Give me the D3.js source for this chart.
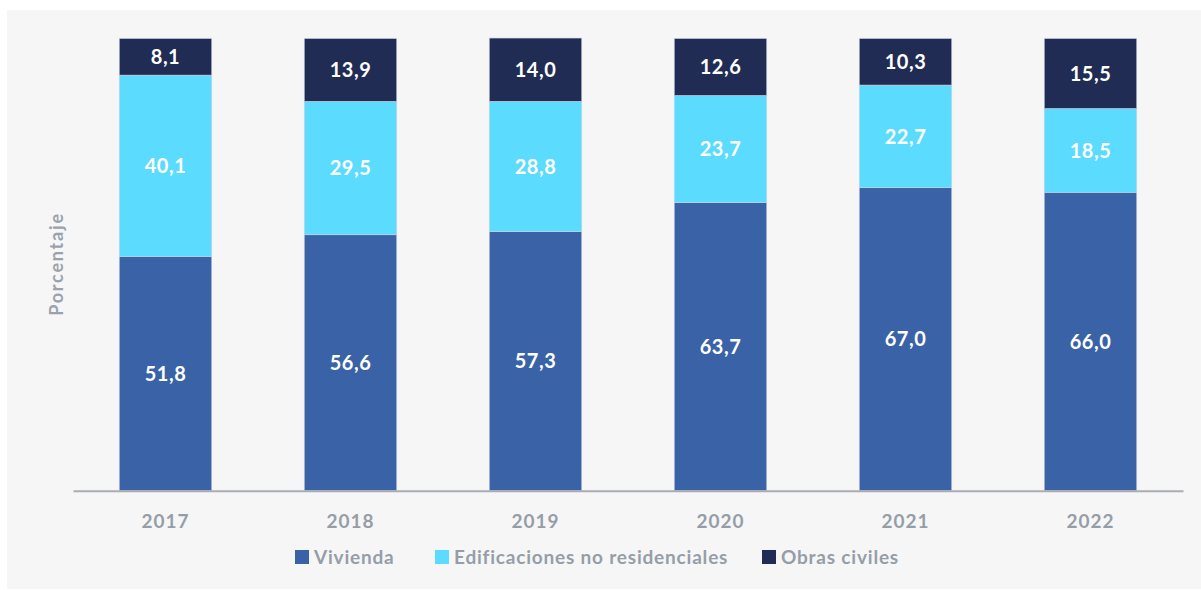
<!DOCTYPE html>
<html>
<head>
<meta charset="utf-8">
<script src="https://cdn.jsdelivr.net/npm/d3@7"></script>
<style>
  body { margin: 0; background: #fff; }
  text { font-family: Lato, "Open Sans", sans-serif; font-weight: 700; }
</style>
</head>
<body>
<svg id="chart" width="1201" height="590"></svg>
<script>
var years = ['2017', '2018', '2019', '2020', '2021', '2022'];
var seriesNames = ['Vivienda', 'Edificaciones no residenciales', 'Obras civiles'];
var vivienda = [51.8, 56.6, 57.3, 63.7, 67.0, 66.0];
var edificaciones = [40.1, 29.5, 28.8, 23.7, 22.7, 18.5];
var obras = [8.1, 13.9, 14.0, 12.6, 10.3, 15.5];
var colors = ['#3a62a6', '#5bdbfe', '#212c55'];

var svg = d3.select('#chart');

// gray panel
svg.append('rect')
  .attr('x', 7).attr('y', 10)
  .attr('width', 1194).attr('height', 579)
  .attr('fill', '#f6f6f6');

var x = d3.scaleBand()
  .domain(years)
  .range([73, 1183])
  .paddingInner(0.5)
  .paddingOuter(0.25);

var y = d3.scaleLinear()
  .domain([0, 100])
  .range([490.7, 38.5]);

var rows = years.map(function(yr, i) {
  return { year: yr, v: vivienda[i], e: edificaciones[i], o: obras[i] };
});

var stack = d3.stack().keys(['v', 'e', 'o']);
var layers = stack(rows);

var groups = svg.selectAll('.layer')
  .data(layers)
  .enter().append('g')
  .attr('class', 'layer')
  .attr('fill', function(d, i) { return colors[i]; });

groups.selectAll('rect')
  .data(function(d) { return d; })
  .enter().append('rect')
  .attr('x', function(d) { return x(d.data.year); })
  .attr('y', function(d) { return y(d[1]); })
  .attr('width', x.bandwidth())
  .attr('height', function(d) { return y(d[0]) - y(d[1]); })
  .attr('stroke', '#c9d3e6')
  .attr('stroke-width', 0.6);

groups.selectAll('text')
  .data(function(d) { return d; })
  .enter().append('text')
  .attr('x', function(d) { return x(d.data.year) + x.bandwidth() / 2; })
  .attr('y', function(d) { return (y(d[0]) + y(d[1])) / 2; })
  .attr('dy', '0.36em')
  .attr('text-anchor', 'middle')
  .attr('fill', '#ffffff')
  .style('font-size', '20px')
  .style('letter-spacing', '0.5px')
  .text(function(d) { return d3.format('.1f')(d[1] - d[0]).replace('.', ','); });

// x axis
var xAxis = svg.append('g')
  .attr('transform', 'translate(0,' + y(0) + ')')
  .call(d3.axisBottom(x).tickSize(0).tickPadding(24));
xAxis.select('.domain').attr('stroke', '#a9adb2').attr('stroke-width', 2);
xAxis.selectAll('text')
  .attr('fill', '#959ea8')
  .style('font-size', '19px')
  .style('letter-spacing', '1px')
  .style('font-family', 'Lato, sans-serif')
  .style('font-weight', 700);

// y label
svg.append('text')
  .attr('transform', 'translate(63,264) rotate(-90)')
  .attr('text-anchor', 'middle')
  .attr('fill', '#9aa3ac')
  .style('font-size', '18px')
  .style('letter-spacing', '1.8px')
  .text('Porcentaje');

// legend
var legendX = [295, 435, 762];
var legend = svg.selectAll('.legend')
  .data(seriesNames)
  .enter().append('g')
  .attr('class', 'legend')
  .attr('transform', function(d, i) { return 'translate(' + legendX[i] + ',550)'; });
legend.append('rect')
  .attr('width', 14).attr('height', 14)
  .attr('fill', function(d, i) { return colors[i]; });
legend.append('text')
  .attr('x', 19).attr('y', 7).attr('dy', '0.36em')
  .attr('fill', '#959ea8')
  .style('font-size', '19px')
  .style('letter-spacing', '0.8px')
  .text(function(d) { return d; });
</script>
</body>
</html>
